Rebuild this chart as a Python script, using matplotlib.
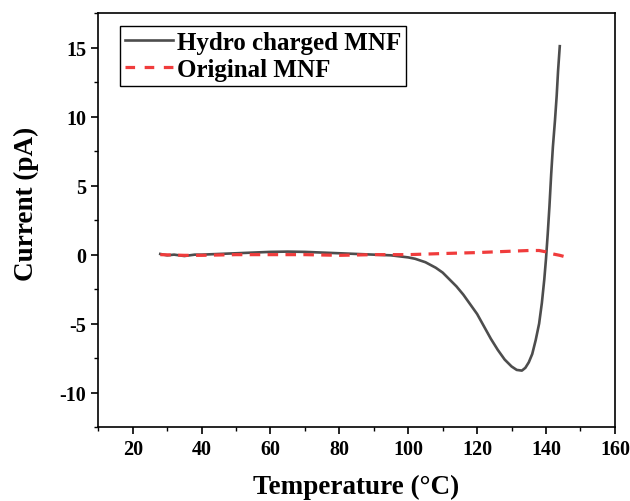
import matplotlib
matplotlib.use("Agg")
import matplotlib.pyplot as plt
from matplotlib.lines import Line2D
from matplotlib.ticker import MultipleLocator

# values
temp_hydro = [28, 30, 32, 35, 38, 40, 45, 50, 55, 60, 65, 70, 75, 80, 85, 90, 95,
              100, 102, 105, 108, 110, 112, 114, 116, 118, 120, 122, 124, 126, 128,
              130, 131.5, 133, 134, 135, 136, 137, 138, 138.8, 139.5, 140, 140.5,
              141, 141.5, 142, 142.6, 143.1, 143.5, 144]
current_hydro = [0.05, -0.05, 0.0, -0.1, 0.0, 0.0, 0.05, 0.1, 0.15, 0.2, 0.22, 0.2,
                 0.15, 0.1, 0.05, 0.0, -0.05, -0.2, -0.3, -0.55, -0.95, -1.3, -1.8,
                 -2.3, -2.9, -3.6, -4.3, -5.2, -6.1, -6.9, -7.6, -8.1, -8.35, -8.4,
                 -8.2, -7.8, -7.2, -6.2, -5.0, -3.5, -1.8, -0.3, 1.5, 3.5, 5.8, 7.8,
                 9.7, 11.5, 13.3, 15.1]

temp_orig = [28, 35, 40, 50, 60, 70, 80, 90, 100, 110, 120, 130, 135, 138, 140, 142, 144, 145.5]
current_orig = [0.0, -0.05, -0.05, 0.0, 0.0, 0.0, -0.05, 0.0, 0.0, 0.08, 0.15, 0.25,
                0.3, 0.3, 0.2, 0.05, -0.05, -0.15]

labels = ["Hydro charged MNF", "Original MNF"]

BLACK = "#4d4d4d"
RED = "#f03c3c"

plt.rcParams["font.family"] = ["Liberation Serif", "DejaVu Serif"]
plt.rcParams["font.weight"] = "bold"
plt.rcParams["axes.unicode_minus"] = False

fig = plt.figure(figsize=(6.3, 5.02), dpi=100)
ax = fig.add_axes([0.156, 0.147, 0.82, 0.825])

ax.plot(temp_hydro, current_hydro, color=BLACK, lw=1.9)
ax.plot(temp_orig, current_orig, color=RED, lw=2.3, ls=(0, (3.3, 2.3)))

ax.set_xlim(10, 160)
ax.set_ylim(-12.5, 17.5)
ax.xaxis.set_major_locator(MultipleLocator(20))
ax.xaxis.set_minor_locator(MultipleLocator(10))
ax.yaxis.set_major_locator(MultipleLocator(5))
ax.yaxis.set_minor_locator(MultipleLocator(2.5))
ax.tick_params(which="major", direction="out", length=5, width=1.2, labelsize=14.5)
ax.tick_params(which="minor", direction="out", length=3, width=1.0)
for s in ax.spines.values():
    s.set_linewidth(1.2)

ax.set_xlabel("Temperature (\u00b0C)", fontsize=19.5, fontweight="bold", va="center")
ax.xaxis.set_label_coords(0.5, -0.143)
ax.set_ylabel("Current (pA)", fontsize=19.5, fontweight="bold", va="center")
ax.yaxis.set_label_coords(-0.139, 0.541)

handles = [Line2D([], [], color=BLACK, lw=1.9),
           Line2D([], [], color=RED, lw=2.3, ls=(0, (3.0, 3.0)))]
leg = ax.legend(handles, labels, loc="upper left", bbox_to_anchor=(0.043, 0.969),
                fontsize=18, frameon=True, fancybox=False, edgecolor="black",
                framealpha=1, handlelength=1.9, handletextpad=0.15, borderpad=0.2,
                labelspacing=0.15, borderaxespad=0)
leg.get_frame().set_linewidth(1.0)

fig.savefig("out.png", dpi=100)
